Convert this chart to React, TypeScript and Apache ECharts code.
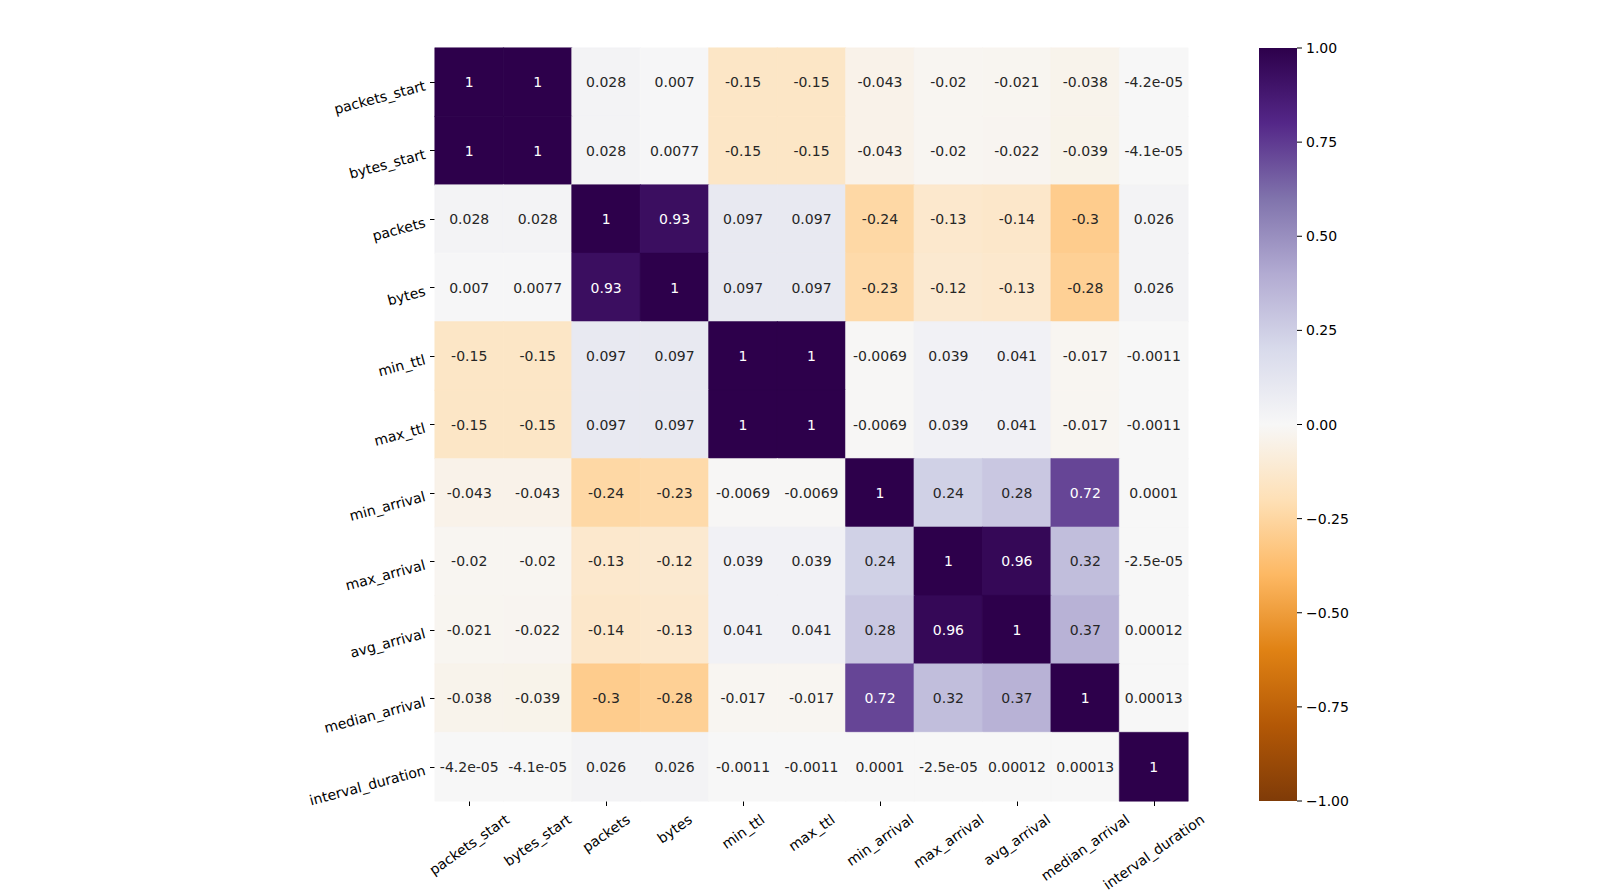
import React, { useEffect, useRef } from "react";
import * as echarts from "echarts";

const labels = [
  "packets_start",
  "bytes_start",
  "packets",
  "bytes",
  "min_ttl",
  "max_ttl",
  "min_arrival",
  "max_arrival",
  "avg_arrival",
  "median_arrival",
  "interval_duration",
];

const rowPacketsStart = [1, 1, 0.028, 0.007, -0.15, -0.15, -0.043, -0.02, -0.021, -0.038, -4.2e-5];
const rowBytesStart = [1, 1, 0.028, 0.0077, -0.15, -0.15, -0.043, -0.02, -0.022, -0.039, -4.1e-5];
const rowPackets = [0.028, 0.028, 1, 0.93, 0.097, 0.097, -0.24, -0.13, -0.14, -0.3, 0.026];
const rowBytes = [0.007, 0.0077, 0.93, 1, 0.097, 0.097, -0.23, -0.12, -0.13, -0.28, 0.026];
const rowMinTtl = [-0.15, -0.15, 0.097, 0.097, 1, 1, -0.0069, 0.039, 0.041, -0.017, -0.0011];
const rowMaxTtl = [-0.15, -0.15, 0.097, 0.097, 1, 1, -0.0069, 0.039, 0.041, -0.017, -0.0011];
const rowMinArrival = [-0.043, -0.043, -0.24, -0.23, -0.0069, -0.0069, 1, 0.24, 0.28, 0.72, 0.0001];
const rowMaxArrival = [-0.02, -0.02, -0.13, -0.12, 0.039, 0.039, 0.24, 1, 0.96, 0.32, -2.5e-5];
const rowAvgArrival = [-0.021, -0.022, -0.14, -0.13, 0.041, 0.041, 0.28, 0.96, 1, 0.37, 0.00012];
const rowMedianArrival = [-0.038, -0.039, -0.3, -0.28, -0.017, -0.017, 0.72, 0.32, 0.37, 1, 0.00013];
const rowIntervalDuration = [-4.2e-5, -4.1e-5, 0.026, 0.026, -0.0011, -0.0011, 0.0001, -2.5e-5, 0.00012, 0.00013, 1];

const matrix = [
  rowPacketsStart,
  rowBytesStart,
  rowPackets,
  rowBytes,
  rowMinTtl,
  rowMaxTtl,
  rowMinArrival,
  rowMaxArrival,
  rowAvgArrival,
  rowMedianArrival,
  rowIntervalDuration,
];

const colorbarTicks = [1, 0.75, 0.5, 0.25, 0, -0.25, -0.5, -0.75, -1];

// matplotlib PuOr (low -> high)
const cmapColors = [
  "#7f3b08", "#b35806", "#e08214", "#fdb863", "#fee0b6", "#f7f7f7",
  "#d8daeb", "#b2abd2", "#8073ac", "#542788", "#2d004b",
];

const FONT = "'DejaVu Sans', 'Noto Sans', sans-serif";

function hexToRgb(h: string) {
  return [parseInt(h.slice(1, 3), 16), parseInt(h.slice(3, 5), 16), parseInt(h.slice(5, 7), 16)];
}

function cmapRgb(v: number) {
  const t = Math.max(0, Math.min(1, (v + 1) / 2)) * (cmapColors.length - 1);
  const i = Math.min(Math.floor(t), cmapColors.length - 2);
  const f = t - i;
  const a = hexToRgb(cmapColors[i]);
  const b = hexToRgb(cmapColors[i + 1]);
  return [0, 1, 2].map((k) => a[k] + (b[k] - a[k]) * f);
}

function cmapHex(v: number) {
  const c = cmapRgb(v);
  return "rgb(" + c.map((x) => Math.round(x)).join(",") + ")";
}

function textColor(v: number) {
  const c = cmapRgb(v).map((x) => {
    const s = x / 255;
    return s <= 0.03928 ? s / 12.92 : Math.pow((s + 0.055) / 1.055, 2.4);
  });
  const lum = 0.2126 * c[0] + 0.7152 * c[1] + 0.0722 * c[2];
  return lum <= 0.408 ? "#ffffff" : "#262626";
}

function fmtG(v: number) {
  if (v === 0) return "0";
  const e = Math.floor(Math.log10(Math.abs(v)) + 1e-12);
  if (e < -4 || e >= 2) {
    const parts = v.toExponential(1).split("e");
    const m = parts[0].replace(/\.?0+$/, "");
    const sign = parts[1][0] === "-" ? "-" : "+";
    let d = parts[1].replace(/^[+-]/, "");
    if (d.length < 2) d = "0" + d;
    return m + "e" + sign + d;
  }
  let s = v.toPrecision(2);
  if (s.indexOf(".") >= 0) s = s.replace(/0+$/, "").replace(/\.$/, "");
  return s;
}

function fmtCbar(v: number) {
  return v.toFixed(2).replace("-", "\u2212");
}

export default function App() {
  const ref = useRef<HTMLDivElement>(null);

  useEffect(() => {
    document.body.style.margin = "0";
    if (!ref.current) return;
    const chart = echarts.init(ref.current, null, { renderer: "svg" });

    const gLeft = 435;
    const gTop = 48;
    const gSize = 753;
    const n = labels.length;
    const cell = gSize / n;

    const canvas = document.createElement("canvas");
    const ctx = canvas.getContext("2d")!;
    ctx.font = "14px 'DejaVu Sans'";

    const data: any[] = [];
    matrix.forEach((row, yi) => {
      row.forEach((v, xi) => {
        data.push({
          value: [xi, yi, v],
          label: { color: textColor(v) },
          itemStyle: { borderColor: cmapHex(v), borderWidth: 0.5 },
        });
      });
    });

    const graphics: any[] = [];
    const rot35 = (35 * Math.PI) / 180;
    const rot15 = (15 * Math.PI) / 180;
    const H = 16.3;

    labels.forEach((lab, i) => {
      const w = ctx.measureText(lab).width;
      const bboxH = w * Math.sin(rot35) + H * Math.cos(rot35);
      const cx = gLeft + (i + 0.5) * cell;
      const cy = gTop + gSize + 5 + 5 + bboxH / 2;
      graphics.push({
        type: "text",
        x: cx,
        y: cy,
        rotation: rot35,
        style: {
          text: lab,
          x: 0,
          y: 0,
          align: "center",
          verticalAlign: "middle",
          fontSize: 14,
          fontFamily: FONT,
          fill: "#000000",
        },
      });
      graphics.push({
        type: "text",
        x: gLeft - 10,
        y: gTop + (i + 0.5) * cell + 3,
        rotation: rot15,
        style: {
          text: lab,
          x: 0,
          y: 0,
          align: "right",
          verticalAlign: "middle",
          fontSize: 14,
          fontFamily: FONT,
          fill: "#000000",
        },
      });
    });

    // colorbar
    const cbX = 1259;
    const cbW = 38;
    const cbTop = gTop;
    const cbH = gSize;
    const stops = cmapColors
      .slice()
      .reverse()
      .map((c, i) => ({ offset: i / (cmapColors.length - 1), color: c }));
    graphics.push({
      type: "rect",
      shape: { x: cbX, y: cbTop, width: cbW, height: cbH },
      style: { fill: new echarts.graphic.LinearGradient(0, 0, 0, 1, stops) },
    });
    colorbarTicks.forEach((t) => {
      const y = cbTop + ((1 - t) / 2) * cbH;
      graphics.push({
        type: "line",
        shape: { x1: cbX + cbW, y1: y, x2: cbX + cbW + 5, y2: y },
        style: { stroke: "#000000", lineWidth: 1 },
      });
      graphics.push({
        type: "text",
        x: cbX + cbW + 9,
        y: y,
        style: {
          text: fmtCbar(t),
          x: 0,
          y: 0,
          align: "left",
          verticalAlign: "middle",
          fontSize: 14,
          fontFamily: FONT,
          fill: "#000000",
        },
      });
    });

    const axisCommon = {
      type: "category",
      data: labels,
      axisLine: { show: false },
      axisTick: { show: true, alignWithLabel: true, length: 5, lineStyle: { color: "#000000", width: 1 } },
      axisLabel: { show: false },
      splitArea: { show: false },
      splitLine: { show: false },
    };

    chart.setOption({
      animation: false,
      backgroundColor: "#ffffff",
      grid: { left: gLeft, top: gTop, width: gSize, height: gSize },
      xAxis: { ...axisCommon, position: "bottom" },
      yAxis: { ...axisCommon, inverse: true },
      visualMap: {
        type: "continuous",
        show: false,
        min: -1,
        max: 1,
        dimension: 2,
        inRange: { color: cmapColors },
      },
      series: [
        {
          type: "heatmap",
          data,
          label: {
            show: true,
            fontSize: 14,
            fontFamily: FONT,
            formatter: (p: any) => fmtG(p.value[2]),
          },
          emphasis: { disabled: true },
        },
      ],
      graphic: graphics,
    });

    return () => chart.dispose();
  }, []);

  return <div ref={ref} style={{ width: 1619, height: 895 }} />;
}
